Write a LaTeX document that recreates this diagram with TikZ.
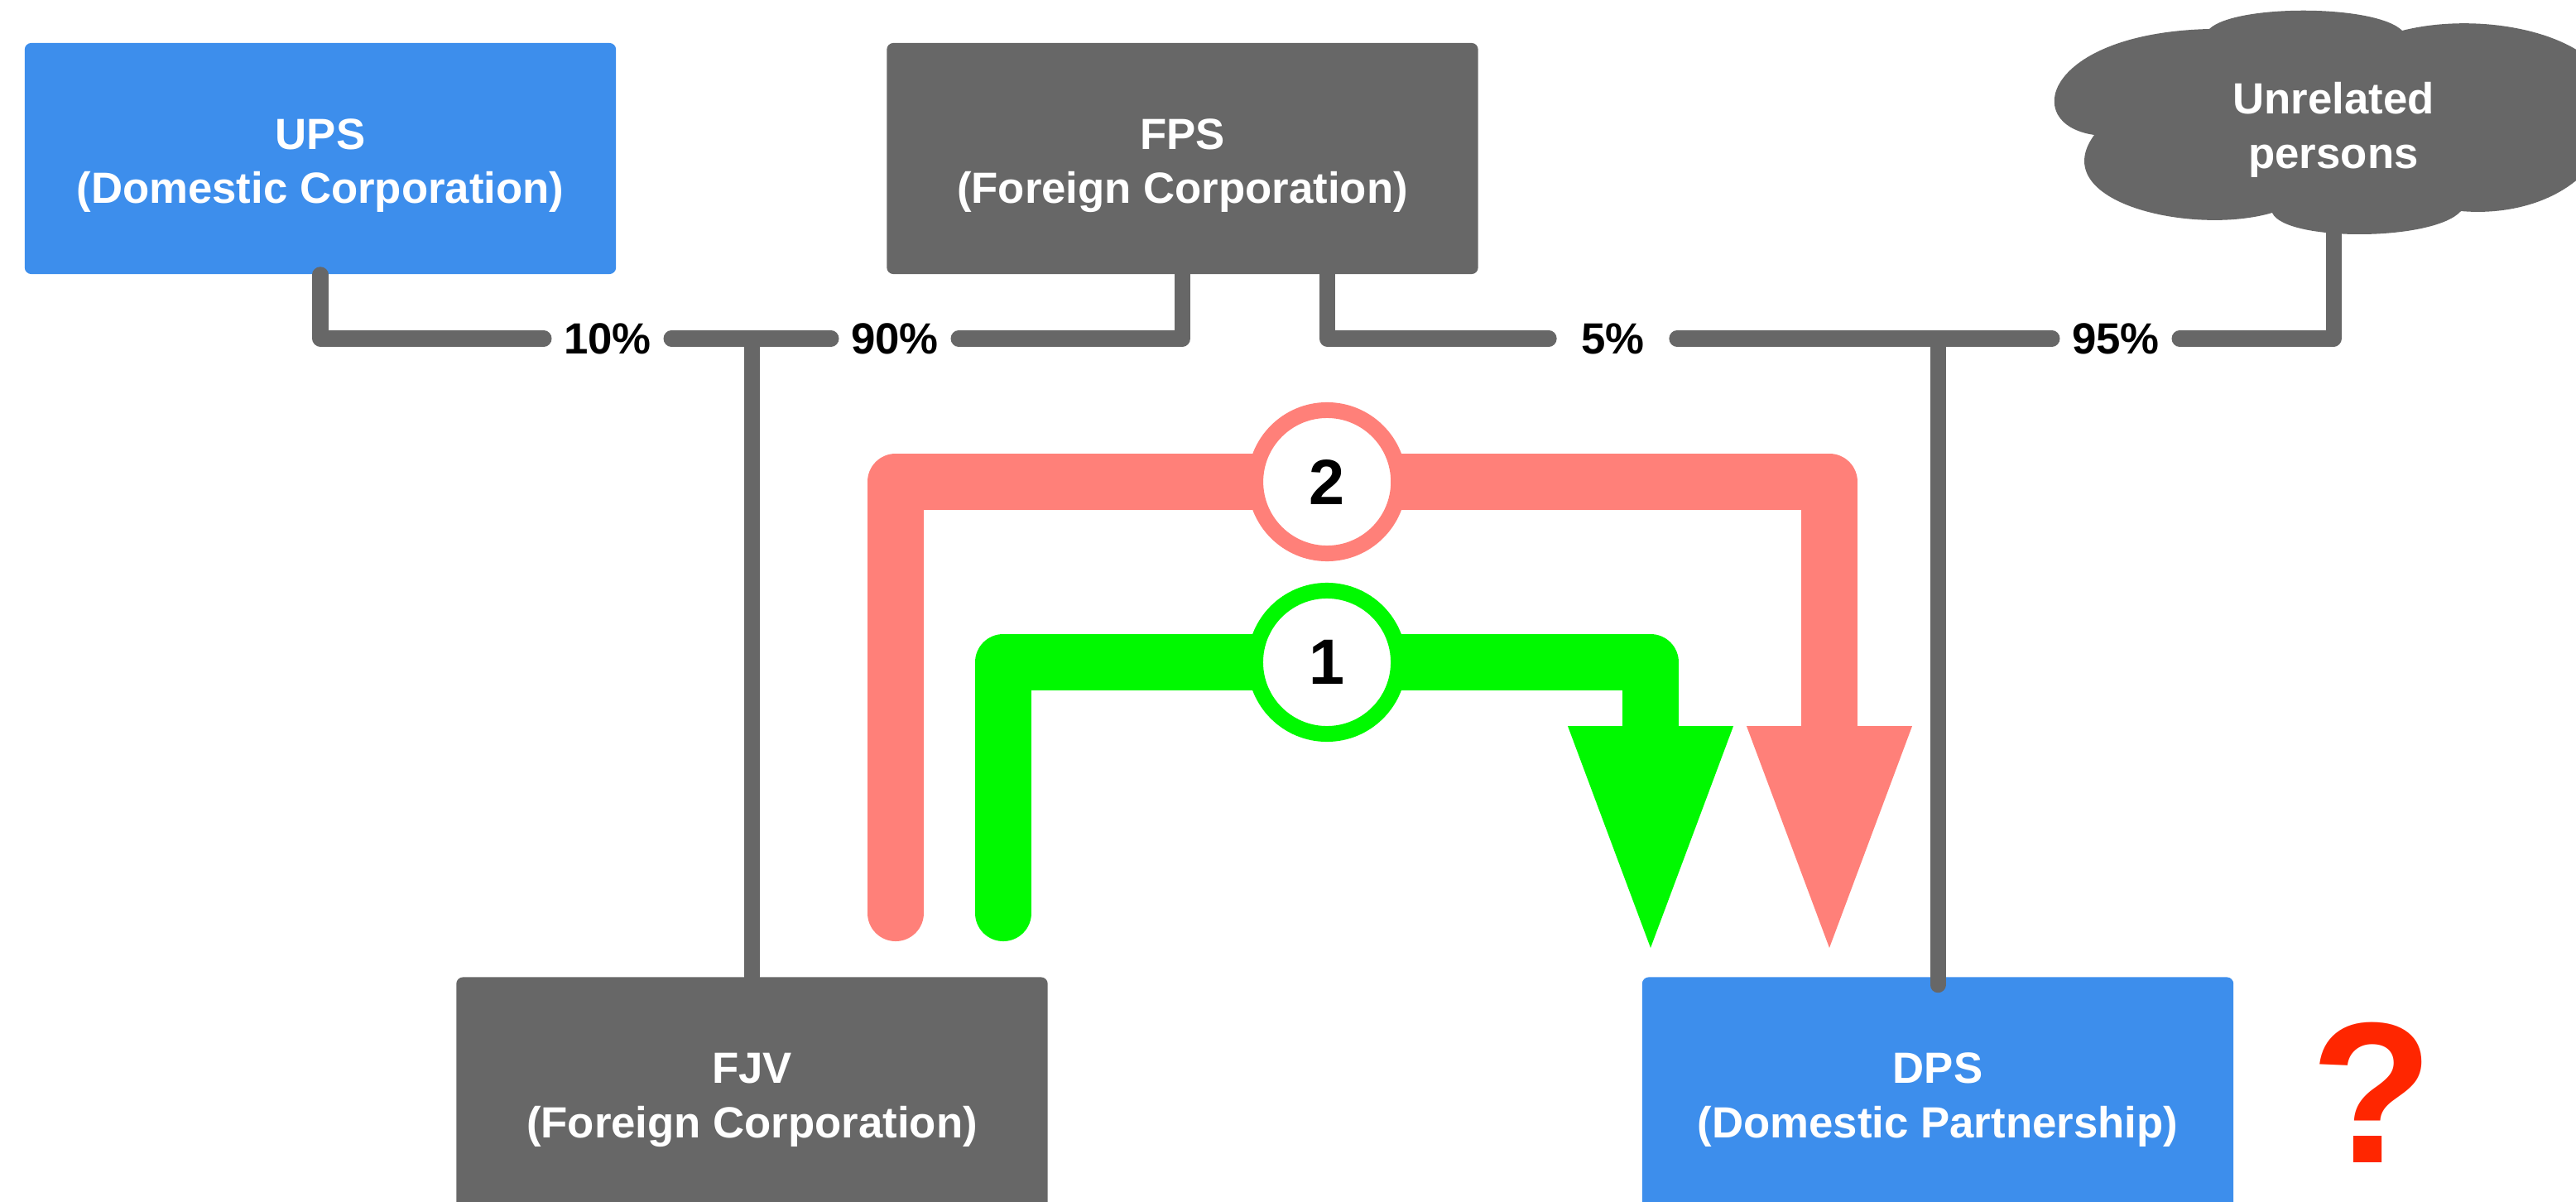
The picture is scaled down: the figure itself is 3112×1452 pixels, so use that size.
\documentclass[tikz,border=0pt]{standalone}
\usepackage{fontspec}
\setmainfont{Liberation Sans}
\definecolor{Bbox}{RGB}{61,142,236}
\definecolor{Gbox}{RGB}{103,103,103}
\definecolor{Sflow}{RGB}{255,128,121}
\definecolor{Gflow}{RGB}{0,249,0}
\definecolor{Qred}{RGB}{255,38,0}

\begin{document}
\begin{tikzpicture}[x=0.01cm,y=-0.01cm,line cap=round,line join=round,
  entity/.style={rectangle,rounded corners=0.8mm,fill=#1,minimum width=71.4mm,minimum height=27.9mm,inner sep=0pt,align=center,text=white,text height=34pt,font=\bfseries\fontsize{15}{18.6}\selectfont},
  pct/.style={inner xsep=2.35mm,inner ysep=0pt,font=\bfseries\fontsize{15}{18}\selectfont},
  own/.style={draw=Gbox,line width=1.9mm},
  flow/.style={draw=#1,line width=6.8mm},
  ring/.style={circle,draw=#1,fill=white,text=black,line width=1.9mm,minimum size=17.3mm,inner sep=0pt,font=\bfseries\fontsize{22}{24}\selectfont}]
\useasboundingbox (0,0) rectangle (3112,1452);

% owners and entities
\node[entity=Bbox] (ups) at (387,191.5) {UPS\\(Domestic Corporation)};
\node[entity=Gbox] (fps) at (1428.5,191.5) {FPS\\(Foreign Corporation)};
\node[entity=Gbox] (fjv) at (908.5,1320) {FJV\\(Foreign Corporation)};
\node[entity=Bbox] (dps) at (2341,1320) {DPS\\(Domestic Partnership)};

% ownership shares
\node[pct] (p10) at (734,409) {10\%};
\node[pct] (p90) at (1081,409) {90\%};
\node[pct,inner xsep=3.85mm] (p5) at (1948.5,409) {5\%};
\node[pct] (p95) at (2556,409) {95\%};
\coordinate (cloudc) at (2819,157);

\draw[own] (ups.south) |- (p10);
\draw[own] (p10) -- (p90);
\draw[own] (p90) -| (fps.south);
\draw[own] (fjv.north) -- (fjv.north |- p10);
\draw[own] ([xshift=17.45mm]fps.south) |- (p5);
\draw[own] (p5) -- (p95);
\draw[own] ([yshift=-1mm]dps.north) -- (dps.north |- p5);
\draw[own] (cloudc) |- (p95);

% unrelated persons cloud
\fill[Gbox] (2669,35) .. controls (2700,5) and (2870,5) .. (2902,37)
  .. controls (3000,12) and (3150,40) .. (3160,125)
  .. controls (3150,230) and (3050,262) .. (2973,255)
  .. controls (2940,292) and (2760,292) .. (2745,257)
  .. controls (2650,285) and (2470,245) .. (2530,163)
  .. controls (2440,150) and (2470,40) .. (2669,35) -- cycle;
\node[align=center,text=white,font=\bfseries\fontsize{15}{18.6}\selectfont] (unrel) at (cloudc) {Unrelated\\persons};

% transactions
\coordinate (s0) at (1082,1103);
\coordinate (s1) at (1082,582);
\coordinate (s2) at (2210,582);
\coordinate (s3) at (2210,877);
\coordinate (stip) at (2210,1145);
\coordinate (g0) at (1212,1103);
\coordinate (g1) at (1212,800);
\coordinate (g2) at (1994,800);
\coordinate (g3) at (1994,877);
\coordinate (gtip) at (1994,1145);

\draw[flow=Sflow] (s0) -- (s1) -- node[ring=Sflow,pos=0.462] (two) {2} (s2) -- (s3);
\fill[Sflow] ([xshift=-10mm]s3) -- ([xshift=10mm]s3) -- (stip) -- cycle;
\draw[flow=Gflow] (g0) -- (g1) -- node[ring=Gflow,pos=0.5] (one) {1} (g2) -- (g3);
\fill[Gflow] ([xshift=-10mm]g3) -- ([xshift=10mm]g3) -- (gtip) -- cycle;

\node[text=Qred,font=\bfseries\fontsize{69}{70}\selectfont] (qm) at (2866,1320) {?};
\end{tikzpicture}
\end{document}
